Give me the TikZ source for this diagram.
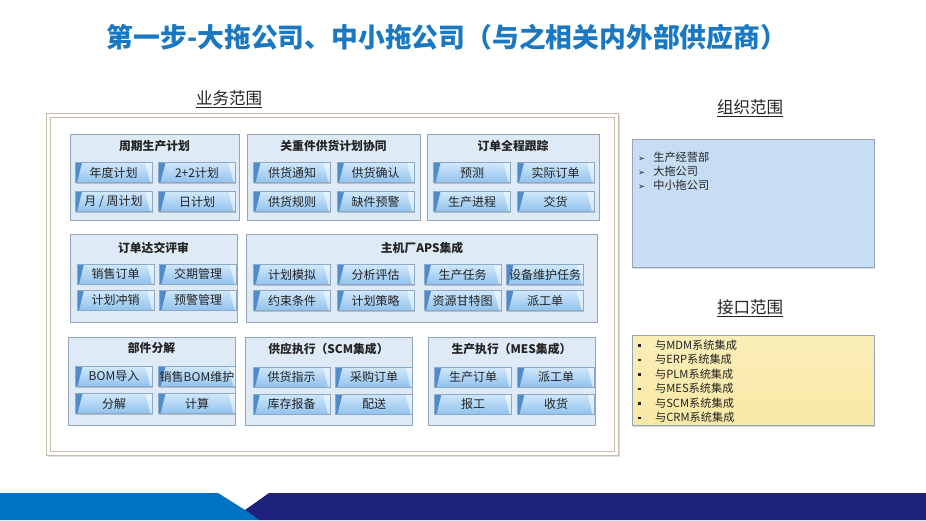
\documentclass[tikz,border=0pt]{standalone}
\usepackage{fontspec}
\setmainfont{Noto Sans CJK SC}
\newfontfamily\dejavu{DejaVu Sans}
\usetikzlibrary{shadows}
\definecolor{biaoti}{RGB}{26,120,194}
\definecolor{zi}{RGB}{35,35,35}
\definecolor{waibian}{RGB}{196,188,170}
\definecolor{kuaibian}{RGB}{150,165,182}
\definecolor{kuaidi}{RGB}{222,235,247}
\definecolor{anniushang}{RGB}{208,232,251}
\definecolor{anniuxia}{RGB}{146,194,238}
\definecolor{anniubian}{RGB}{140,170,200}
\definecolor{anniuzuo}{RGB}{80,140,204}
\definecolor{zuzhidi}{RGB}{198,221,244}
\definecolor{jiekoudi}{RGB}{249,233,166}
\definecolor{dilan}{RGB}{0,114,198}
\definecolor{dishen}{RGB}{30,34,124}

\begin{document}
\begin{tikzpicture}[x=1pt,y=-1pt,font=\fontsize{12}{14}\selectfont]
	\tikzset{kuai/.style={draw=kuaibian, fill=kuaidi, line width=0.6pt, anchor=north west, inner sep=0pt},
		kuaiming/.style={font=\fontsize{11.8}{13}\selectfont\bfseries, text=zi},
		anniu/.style={minimum width=77pt, minimum height=20pt, inner sep=0pt, text=zi,
			top color=anniushang, bottom color=anniuxia, draw=anniubian, line width=0.3pt,
			drop shadow={shadow xshift=0.6pt, shadow yshift=-1.4pt, opacity=0.35, fill=black!60},
			path picture={
				\fill[anniuzuo] (path picture bounding box.north west) -- ++(7pt,0pt)
					-- ([xshift=2pt]path picture bounding box.south west) -- (path picture bounding box.south west) -- cycle;
				\fill[white, opacity=0.55] (path picture bounding box.north east) -- ++(-7pt,0pt)
					-- ([xshift=-2pt]path picture bounding box.south east) -- (path picture bounding box.south east) -- cycle;
			}},
		fanwei/.style={font=\fontsize{16.5}{18}\selectfont, text=zi},
		liebiao/.style={anchor=west, inner sep=0pt, text=zi, font=\fontsize{11.2}{12}\selectfont}}
	\useasboundingbox (0,0) rectangle (926,520);
	\fill[white] (0,0) rectangle (926,520);

	\node[text=biaoti, font=\fontsize{26.8}{30}\selectfont\bfseries] (biaoti) at (447,37) {第一步-大拖公司、中小拖公司（与之相关内外部供应商）};

	% 业务范围
	\node[fanwei] (yewuming) at (229,99) {\underline{业务范围}};
	\node[draw=waibian, fill=white, line width=0.8pt, anchor=north west, minimum width=572pt, minimum height=342pt,
		drop shadow={shadow xshift=1.5pt, shadow yshift=-2pt, opacity=0.25}] (yewu) at (46,113) {};
	\node[draw=waibian, line width=0.8pt, anchor=north west, minimum width=564pt, minimum height=334pt] (yewunei) at (50,117) {};

	\node[kuai, minimum width=169pt, minimum height=86pt] (zhouqi) at (70,134) {};
	\node[kuai, minimum width=173pt, minimum height=86pt] (guanzhong) at (247,134) {};
	\node[kuai, minimum width=172pt, minimum height=86pt] (gengzong) at (427,134) {};
	\node[kuai, minimum width=167pt, minimum height=88pt] (dajiao) at (70,234) {};
	\node[kuai, minimum width=351pt, minimum height=88pt] (aps) at (246,234) {};
	\node[kuai, minimum width=167pt, minimum height=88pt] (bujian) at (68,337) {};
	\node[kuai, minimum width=167pt, minimum height=88pt] (scm) at (245,337) {};
	\node[kuai, minimum width=167pt, minimum height=88pt] (mes) at (428,337) {};

	\node[kuaiming] (zhouqim) at (154.5,146) {周期生产计划};
	\node[kuaiming] (guanzhongm) at (333.5,146) {关重件供货计划协同};
	\node[kuaiming] (gengzongm) at (513,146) {订单全程跟踪};
	\node[kuaiming] (dajiaom) at (153.5,248) {订单达交评审};
	\node[kuaiming] (apsm) at (422,248) {主机厂APS集成};
	\node[kuaiming] (bujianm) at (151.5,348) {部件分解};
	\node[kuaiming] (scmm) at (328.5,349) {供应执行（SCM集成）};
	\node[kuaiming] (mesm) at (511.5,349) {生产执行（MES集成）};

	\node[anniu] (niandu) at (113.5,172.5) {年度计划};
	\node[anniu] (erjiaer) at (197,172.5) {2+2计划};
	\node[anniu] (yuezhou) at (113.5,201.5) {月 / 周计划};
	\node[anniu] (ri) at (197,201.5) {日计划};

	\node[anniu] (tongzhi) at (292,172.5) {供货通知};
	\node[anniu] (queren) at (375.5,172.5) {供货确认};
	\node[anniu] (guize) at (292,201.5) {供货规则};
	\node[anniu] (yujing) at (375.5,201.5) {缺件预警};

	\node[anniu] (yuce) at (472,172.5) {预测};
	\node[anniu] (shiji) at (555.5,172.5) {实际订单};
	\node[anniu] (jincheng) at (472,201.5) {生产进程};
	\node[anniu] (jiaohuo) at (555.5,201.5) {交货};

	\node[anniu] (xiaoshou) at (115.5,274) {销售订单};
	\node[anniu] (jiaoqi) at (198,274) {交期管理};
	\node[anniu] (chongxiao) at (115.5,300) {计划冲销};
	\node[anniu] (yujingg) at (198,300) {预警管理};

	\node[anniu] (moni) at (292,274.5) {计划模拟};
	\node[anniu] (pinggu) at (375.5,274.5) {分析评估};
	\node[anniu] (renwu) at (462.5,274.5) {生产任务};
	\node[anniu] (weihu) at (545,274.5) {设备维护任务};
	\node[anniu] (yueshu) at (292,300.5) {约束条件};
	\node[anniu] (celue) at (375.5,300.5) {计划策略};
	\node[anniu] (gante) at (462.5,300.5) {资源甘特图};
	\node[anniu] (paigong) at (545,300.5) {派工单};

	\node[anniu] (daoru) at (114,376.5) {BOM导入};
	\node[anniu] (bomweihu) at (197,376.5) {销售BOM维护};
	\node[anniu] (fenjie) at (114,403.5) {分解};
	\node[anniu] (jisuan) at (197,403.5) {计算};

	\node[anniu] (zhishi) at (291.5,377) {供货指示};
	\node[anniu] (caigou) at (374,377) {采购订单};
	\node[anniu] (baobei) at (291.5,404) {库存报备};
	\node[anniu] (peisong) at (374,404) {配送};

	\node[anniu] (shengchan) at (473,377) {生产订单};
	\node[anniu] (paigongm) at (556,377) {派工单};
	\node[anniu] (baogong) at (473,404) {报工};
	\node[anniu] (shouhuo) at (556,404) {收货};

	% 组织范围
	\node[fanwei] (zuzhiming) at (750,108) {\underline{组织范围}};
	\node[draw=kuaibian, fill=zuzhidi, line width=0.8pt, anchor=north west, minimum width=242pt, minimum height=128pt,
		drop shadow={shadow xshift=1pt, shadow yshift=-1.5pt, opacity=0.3}] (zuzhi) at (632,139) {};
	\node[liebiao] (zuzhi1) at (638,157) {{\dejavu\fontsize{8.5}{9}\selectfont ➢}\hspace{8pt}生产经营部};
	\node[liebiao] (zuzhi2) at (638,171) {{\dejavu\fontsize{8.5}{9}\selectfont ➢}\hspace{8pt}大拖公司};
	\node[liebiao] (zuzhi3) at (638,185) {{\dejavu\fontsize{8.5}{9}\selectfont ➢}\hspace{8pt}中小拖公司};

	% 接口范围
	\node[fanwei] (jiekouming) at (750,308) {\underline{接口范围}};
	\node[draw=kuaibian, top color=jiekoudi!80!white, bottom color=jiekoudi, line width=0.8pt, anchor=north west,
		minimum width=242pt, minimum height=90pt,
		drop shadow={shadow xshift=1pt, shadow yshift=-1.5pt, opacity=0.3}] (jiekou) at (632,335) {};
	\node[liebiao] (jiekou1) at (638,345) {\rule[2.5pt]{2.4pt}{2.4pt}\hspace{14.5pt}与MDM系统集成};
	\node[liebiao] (jiekou2) at (638,359.5) {\rule[2.5pt]{2.4pt}{2.4pt}\hspace{14.5pt}与ERP系统集成};
	\node[liebiao] (jiekou3) at (638,374) {\rule[2.5pt]{2.4pt}{2.4pt}\hspace{14.5pt}与PLM系统集成};
	\node[liebiao] (jiekou4) at (638,388.5) {\rule[2.5pt]{2.4pt}{2.4pt}\hspace{14.5pt}与MES系统集成};
	\node[liebiao] (jiekou5) at (638,403) {\rule[2.5pt]{2.4pt}{2.4pt}\hspace{14.5pt}与SCM系统集成};
	\node[liebiao] (jiekou6) at (638,417.5) {\rule[2.5pt]{2.4pt}{2.4pt}\hspace{14.5pt}与CRM系统集成};

	% 底部色带
	\fill[dilan] (0,493) -- (218,493) -- (245,510) -- (259,520) -- (0,520) -- cycle;
	\fill[dishen] (269,493) -- (926,493) -- (926,520) -- (259,520) -- (245,510) -- cycle;
\end{tikzpicture}
\end{document}
